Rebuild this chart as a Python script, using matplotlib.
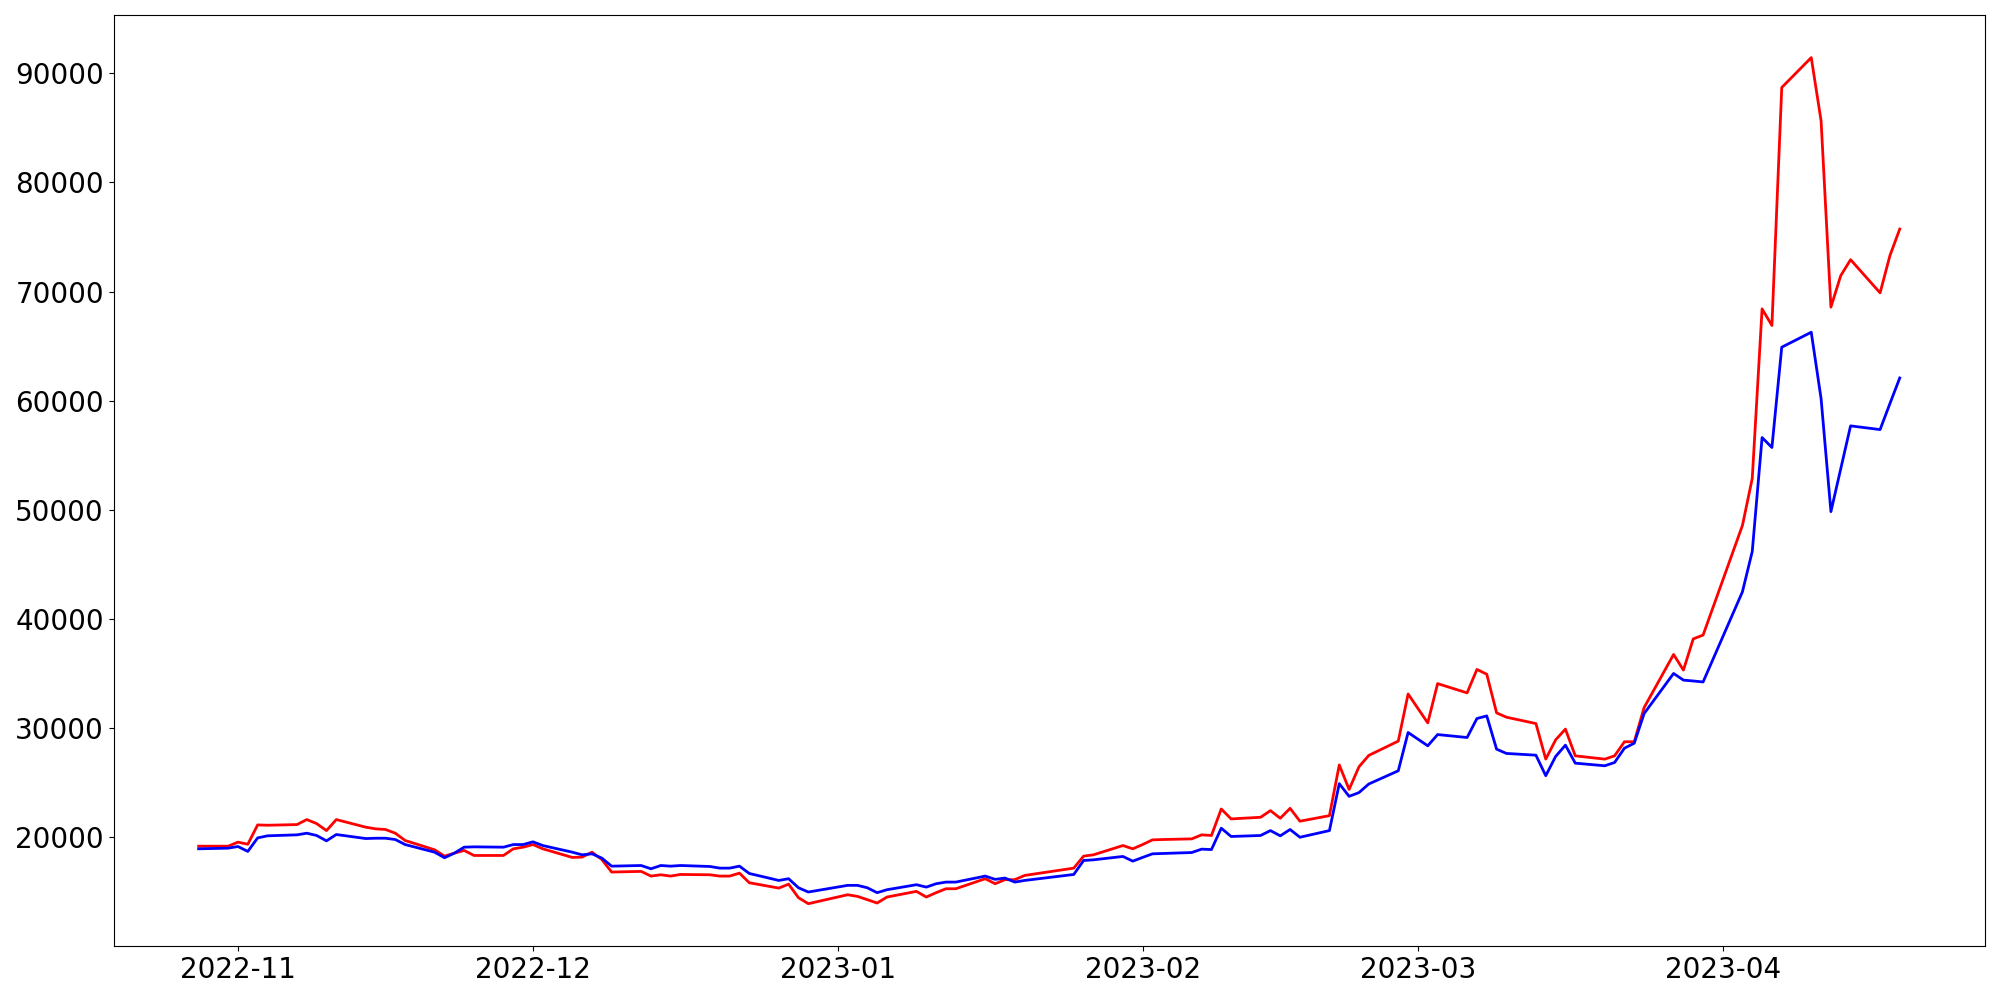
import matplotlib
matplotlib.use("Agg")
import matplotlib.pyplot as plt
import matplotlib.dates as mdates
import pandas as pd

dates = [
    "2022-10-28", "2022-10-31",
    "2022-11-01", "2022-11-02", "2022-11-03", "2022-11-04", "2022-11-07", "2022-11-08",
    "2022-11-09", "2022-11-10", "2022-11-11", "2022-11-14", "2022-11-15", "2022-11-16",
    "2022-11-17", "2022-11-18", "2022-11-21", "2022-11-22", "2022-11-23", "2022-11-24",
    "2022-11-25", "2022-11-28", "2022-11-29", "2022-11-30",
    "2022-12-01", "2022-12-02", "2022-12-05", "2022-12-06", "2022-12-07", "2022-12-08",
    "2022-12-09", "2022-12-12", "2022-12-13", "2022-12-14", "2022-12-15", "2022-12-16",
    "2022-12-19", "2022-12-20", "2022-12-21", "2022-12-22", "2022-12-23", "2022-12-26",
    "2022-12-27", "2022-12-28", "2022-12-29",
    "2023-01-02", "2023-01-03", "2023-01-04", "2023-01-05", "2023-01-06", "2023-01-09",
    "2023-01-10", "2023-01-11", "2023-01-12", "2023-01-13", "2023-01-16", "2023-01-17",
    "2023-01-18", "2023-01-19", "2023-01-20", "2023-01-25", "2023-01-26", "2023-01-27",
    "2023-01-30", "2023-01-31",
    "2023-02-01", "2023-02-02", "2023-02-03", "2023-02-06", "2023-02-07", "2023-02-08",
    "2023-02-09", "2023-02-10", "2023-02-13", "2023-02-14", "2023-02-15", "2023-02-16",
    "2023-02-17", "2023-02-20", "2023-02-21", "2023-02-22", "2023-02-23", "2023-02-24",
    "2023-02-27", "2023-02-28",
    "2023-03-02", "2023-03-03", "2023-03-06", "2023-03-07", "2023-03-08", "2023-03-09",
    "2023-03-10", "2023-03-13", "2023-03-14", "2023-03-15", "2023-03-16", "2023-03-17",
    "2023-03-20", "2023-03-21", "2023-03-22", "2023-03-23", "2023-03-24", "2023-03-27",
    "2023-03-28", "2023-03-29", "2023-03-30",
    "2023-04-03", "2023-04-04", "2023-04-05", "2023-04-06", "2023-04-07", "2023-04-10",
    "2023-04-11", "2023-04-12", "2023-04-13", "2023-04-14", "2023-04-17", "2023-04-18",
    "2023-04-19",
]

red_values = [
    19170, 19170,
    19540, 19350, 21120, 21090, 21150, 21610,
    21240, 20600, 21610, 20910, 20760, 20700,
    20360, 19690, 18840, 18260, 18530, 18780,
    18320, 18320, 18930, 19080,
    19320, 18930, 18140, 18170, 18620, 17950,
    16800, 16860, 16430, 16550, 16430, 16580,
    16550, 16430, 16430, 16700, 15820, 15330,
    15690, 14450, 13900,
    14720, 14570, 14270, 13960, 14510, 15030,
    14510, 14910, 15270, 15270, 16190, 15730,
    16100, 16100, 16490, 17160, 18260, 18380,
    19230, 18930,
    19320, 19750, 19780, 19840, 20210, 20150,
    22580, 21670, 21820, 22430, 21730, 22640,
    21460, 21970, 26620, 24370, 26440, 27490,
    28800, 33120,
    30470, 34070, 33220, 35370, 34930, 31390,
    30990, 30410, 27150, 28910, 29900, 27450,
    27150, 27450, 28740, 28740, 31870, 36740,
    35310, 38170, 38520,
    48560, 52870, 68410, 66890, 88700, 91440,
    85650, 68570, 71460, 72920, 69880, 73290,
    75730,
]

blue_values = [
    18930, 18990,
    19140, 18690, 19930, 20120, 20210, 20360,
    20150, 19660, 20240, 19870, 19900, 19900,
    19780, 19320, 18620, 18110, 18530, 19080,
    19110, 19080, 19320, 19320,
    19570, 19230, 18620, 18380, 18470, 18080,
    17340, 17400, 17100, 17400, 17340, 17400,
    17310, 17160, 17160, 17340, 16670, 16030,
    16190, 15360, 14970,
    15580, 15580, 15360, 14910, 15180, 15640,
    15420, 15730, 15880, 15880, 16430, 16130,
    16250, 15880, 16030, 16580, 17860, 17920,
    18230, 17800,
    18140, 18470, 18500, 18590, 18900, 18860,
    20820, 20060, 20150, 20600, 20120, 20700,
    19990, 20600, 24900, 23740, 24080, 24870,
    26080, 29590,
    28370, 29400, 29130, 30870, 31110, 28060,
    27670, 27510, 25630, 27390, 28430, 26780,
    26540, 26840, 28150, 28610, 31320, 35000,
    34390, 34310, 34220,
    42480, 46180, 56620, 55710, 64900, 66270,
    60190, 49830, 53760, 57690, 57350, 59730,
    62080,
]

x = pd.to_datetime(dates)

fig, ax = plt.subplots(figsize=(20, 10), dpi=100)
fig.subplots_adjust(left=0.0568, right=0.9924, top=0.9847, bottom=0.054)

ax.plot(x, red_values, color="red", linewidth=2)
ax.plot(x, blue_values, color="blue", linewidth=2)

ax.xaxis.set_major_locator(mdates.MonthLocator())
ax.xaxis.set_major_formatter(mdates.DateFormatter("%Y-%m"))
ax.tick_params(axis="both", labelsize=20)

fig.savefig("out.png", dpi=100)
